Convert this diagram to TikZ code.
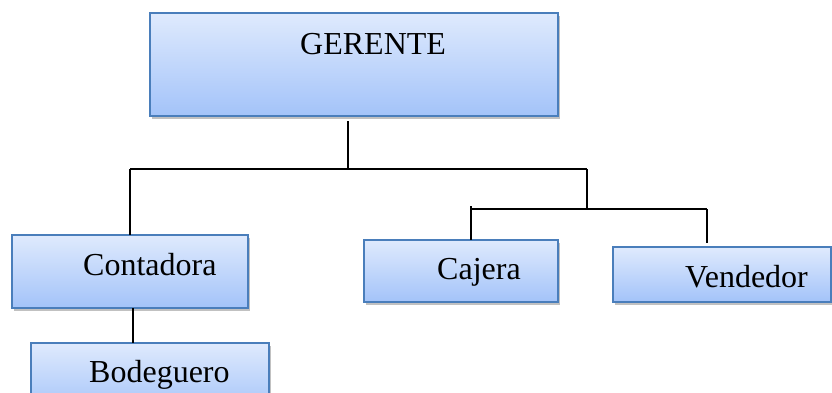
\documentclass[tikz,border=0pt]{standalone}
\usepackage{fontspec}
\setmainfont{Liberation Serif}
\usetikzlibrary{shadows}
\definecolor{boxtop}{HTML}{DFEAFD}
\definecolor{boxbot}{HTML}{A3C3F9}
\definecolor{boxline}{HTML}{4A7EBB}
\tikzset{
  orgbox/.style={draw=boxline, line width=1.6pt, top color=boxtop, bottom color=boxbot,
    inner sep=0pt, outer sep=0pt,
    drop shadow={shadow xshift=1.5pt, shadow yshift=-3pt, opacity=0.35, fill=black!70}},
  lbl/.style={anchor=base west, inner sep=0pt, font=\fontsize{32}{36}\selectfont},
  conn/.style={draw=black, line width=2pt}
}
\begin{document}
\begin{tikzpicture}[x=1pt,y=-1pt]
\useasboundingbox (0,0) rectangle (832,392);
\clip (0,0) rectangle (832,392);
% boxes
\node[orgbox, minimum width=408pt, minimum height=103pt] (gerente) at (354,64.5) {};
\node[orgbox, minimum width=236pt, minimum height=73pt] (contadora) at (130,271.5) {};
\node[orgbox, minimum width=238pt, minimum height=70pt] (bodeguero) at (150,378) {};
\node[orgbox, minimum width=194pt, minimum height=62pt] (cajera) at (461,271) {};
\node[orgbox, minimum width=218pt, minimum height=55pt] (vendedor) at (722,274.5) {};
% labels
\node[lbl] (tg) at (300,54) {GERENTE};
\node[lbl] (tc) at (83,275) {Contadora};
\node[lbl] (tb) at (89,382) {Bodeguero};
\node[lbl] (tj) at (437,279) {Cajera};
\node[lbl] (tv) at (685,287) {Vendedor};
% junctions
\coordinate (g1) at (348,121);
\coordinate (g2) at (348,169);
\coordinate (hl) at (130,169);
\coordinate (hr) at (587,169);
\coordinate (s1) at (587,209);
\coordinate (sl) at (471,209);
\coordinate (slt) at (471,206);
\coordinate (sr) at (707,209);
\coordinate (vend) at (707,243);
\coordinate (cb) at (133,308);
% connectors
\draw[conn] (g1) -- (g2);
\draw[conn] (hl) -- (hr);
\draw[conn] (hl) -- (contadora.north);
\draw[conn] (hr) -- (s1);
\draw[conn] (sl) -- (sr);
\draw[conn] (slt) -- (cajera.north -| slt);
\draw[conn] (sr) -- (vend);
\draw[conn] (contadora.south -| cb) -- (bodeguero.north -| cb);
\end{tikzpicture}
\end{document}
